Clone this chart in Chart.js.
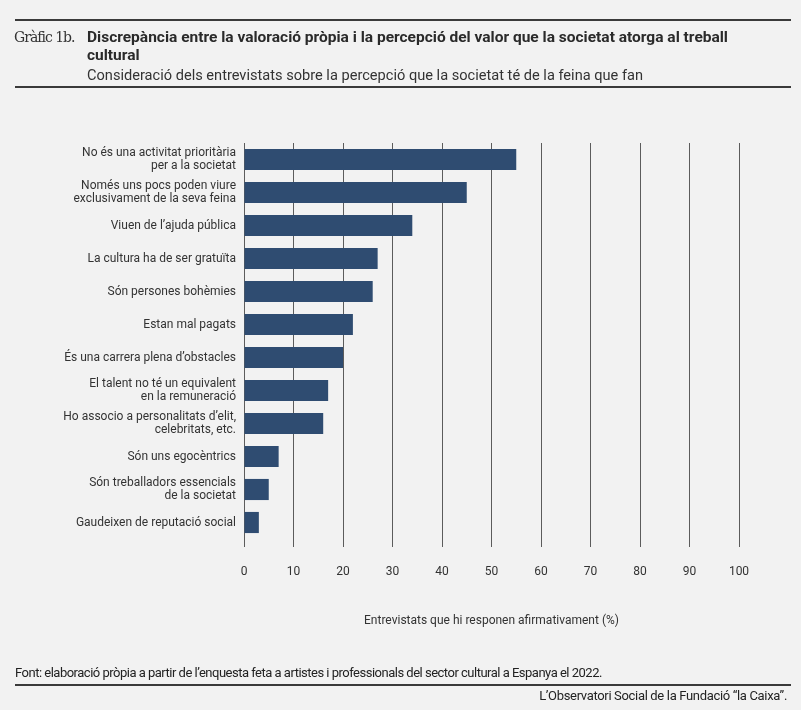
<!DOCTYPE html>
<html lang="ca">
<head>
<meta charset="utf-8">
<script src="https://cdn.jsdelivr.net/npm/chart.js@4.4.1/dist/chart.umd.min.js"></script>
<style>
  html, body { margin: 0; padding: 0; background: #f2f2f2; }
  #wrap { position: relative; width: 801px; height: 710px; overflow: hidden; font-family: Roboto, sans-serif; color: #333; }
  #grafic { position: absolute; left: 0; top: 0; }
  .regla { position: absolute; left: 15px; width: 776px; height: 2px; background: #3a3a3a; }
  .txt { position: absolute; white-space: nowrap; }
  #numero { left: 14px; top: 29px; font-family: "DejaVu Serif", serif; font-size: 14px; letter-spacing: -1px; color: #333; }
  #titol { left: 87px; top: 28px; font-size: 15.5px; font-weight: bold; line-height: 18px; letter-spacing: 0; color: #2a2a2a; }
  #subtitol { left: 87px; top: 66px; font-size: 14.6px; color: #333; }
  #font { left: 15px; top: 665px; font-size: 13px; letter-spacing: -0.5px; color: #222; }
  #signatura { right: 14px; top: 688px; font-size: 13px; letter-spacing: -0.33px; color: #222; }
</style>
</head>
<body>
<div id="wrap">
  <canvas id="grafic" width="801" height="710"></canvas>
  <div class="regla" style="top:19px"></div>
  <div class="txt" id="numero">Gràfic 1b.</div>
  <div class="txt" id="titol">Discrepància entre la valoració pròpia i la percepció del valor que la societat atorga al treball<br>cultural</div>
  <div class="txt" id="subtitol">Consideració dels entrevistats sobre la percepció que la societat té de la feina que fan</div>
  <div class="regla" style="top:86px"></div>
  <div class="txt" id="font">Font: elaboració pròpia a partir de l’enquesta feta a artistes i professionals del sector cultural a Espanya el 2022.</div>
  <div class="regla" style="top:684px"></div>
  <div class="txt" id="signatura">L’Observatori Social de la Fundació “la Caixa”.</div>
</div>
<script>
  // Categories (de dalt a baix) i percentatges llegits del gràfic
  const categories = [
    ['No és una activitat prioritària', 'per a la societat'],
    ['Només uns pocs poden viure', 'exclusivament de la seva feina'],
    'Viuen de l’ajuda pública',
    'La cultura ha de ser gratuïta',
    'Són persones bohèmies',
    'Estan mal pagats',
    'És una carrera plena d’obstacles',
    ['El talent no té un equivalent', 'en la remuneració'],
    ['Ho associo a personalitats d’elit,', 'celebritats, etc.'],
    'Són uns egocèntrics',
    ['Són treballadors essencials', 'de la societat'],
    'Gaudeixen de reputació social'
  ];
  const percentatges = [55, 45, 34, 27, 26, 22, 20, 17, 16, 7, 5, 3];
  const xMin = 0;
  const xMax = 100;
  const xPas = 10;
  const titolEix = 'Entrevistats que hi responen afirmativament (%)';

  const colorBarra = '#2f4c71';
  const colorGraella = '#5c5c5c';
  const colorText = '#333333';

  Chart.defaults.font.family = 'Roboto, sans-serif';
  Chart.defaults.font.size = 12;
  Chart.defaults.color = colorText;

  const ctx = document.getElementById('grafic').getContext('2d');
  const grafic = new Chart(ctx, {
    type: 'bar',
    data: {
      labels: categories,
      datasets: [{
        data: percentatges,
        backgroundColor: colorBarra,
        borderWidth: 0,
        categoryPercentage: 1,
        barPercentage: 0.64
      }]
    },
    options: {
      indexAxis: 'y',
      responsive: false,
      animation: false,
      layout: { padding: { top: 143, right: 62, bottom: 0, left: 0 } },
      plugins: {
        legend: { display: false },
        tooltip: { enabled: false }
      },
      scales: {
        x: {
          min: xMin,
          max: xMax,
          afterFit: (scale) => { scale.height = 171; },
          grid: { color: colorGraella, lineWidth: 1, tickLength: 8, drawTicks: true, tickColor: colorGraella },
          border: { display: false },
          ticks: { stepSize: xPas, padding: 18, color: colorText, font: { size: 12 } },
          title: {
            display: true,
            text: titolEix,
            color: colorText,
            font: { size: 12 },
            padding: { top: 0, bottom: 82 }
          }
        },
        y: {
          afterFit: (scale) => { scale.width = 244; },
          grid: { display: false, drawTicks: false },
          border: { display: true, color: colorGraella, width: 1 },
          ticks: { padding: 8, color: colorText, font: { size: 12, lineHeight: 1.05 } }
        }
      }
    }
  });
</script>
</body>
</html>
